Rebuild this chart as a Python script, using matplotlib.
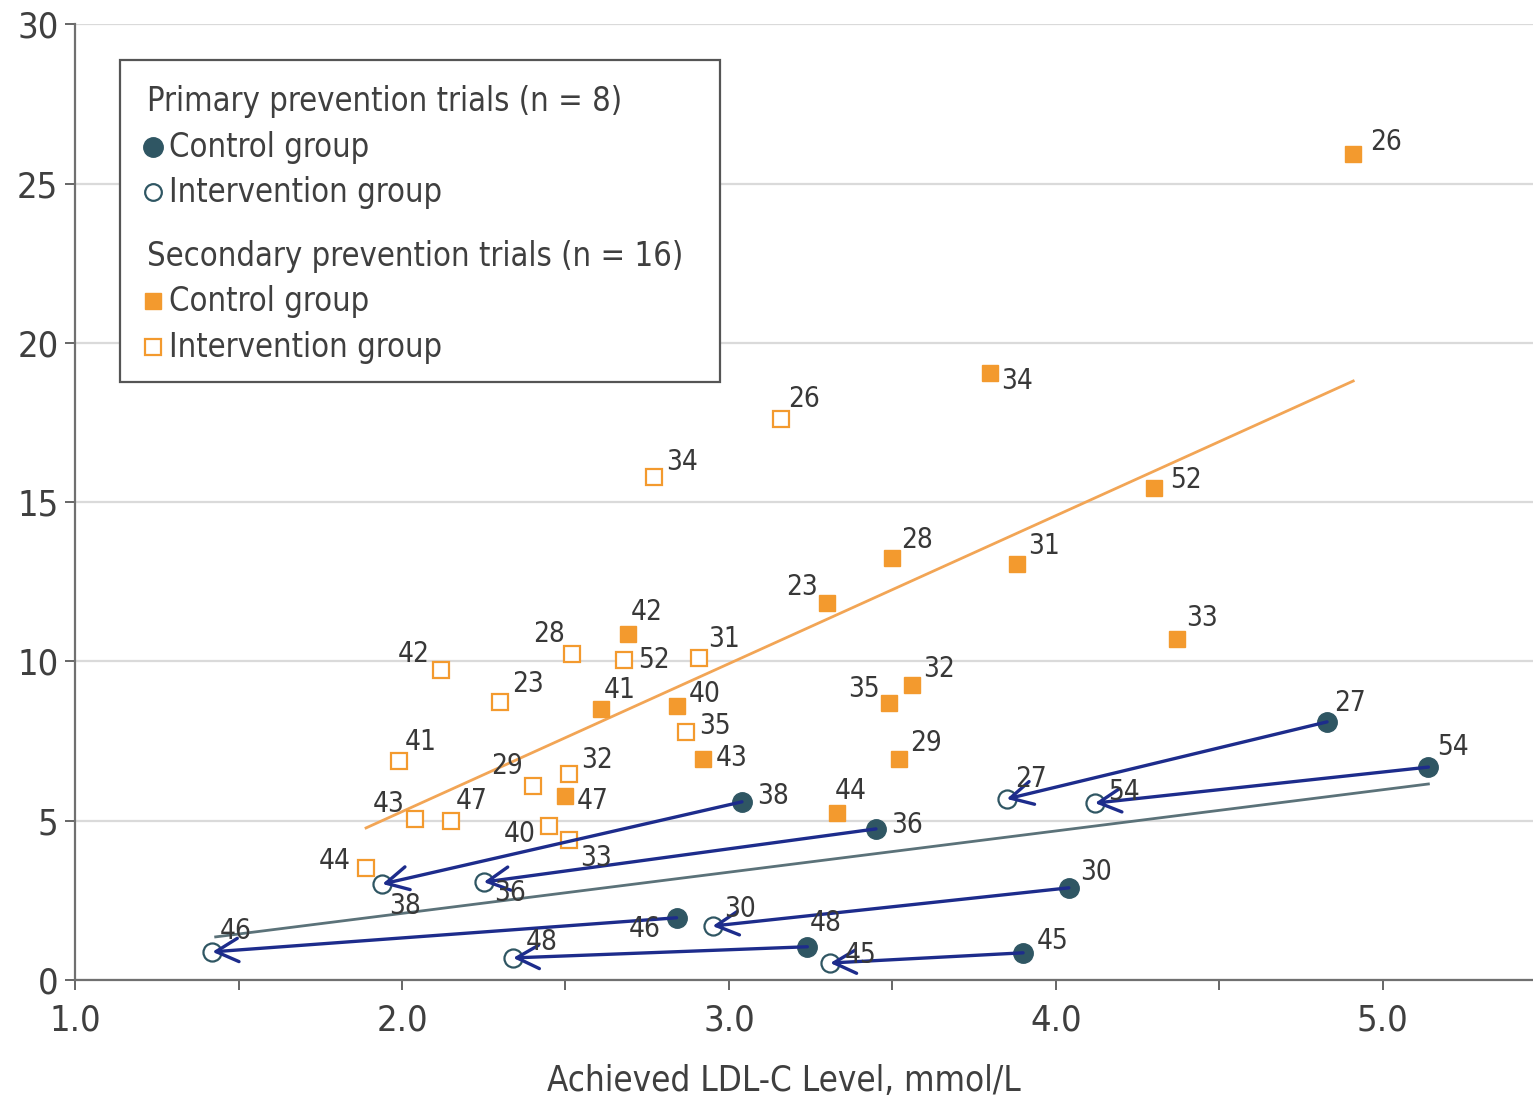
import matplotlib
matplotlib.use('Agg')
import matplotlib.pyplot as plt
from matplotlib.patches import Rectangle

# the original uses a narrow sans, DejaVu Sans Condensed is the closest installed face
plt.rcParams['font.family'] = ['DejaVu Sans']
plt.rcParams['font.stretch'] = 'condensed'

# Primary prevention trials (n=8): control -> intervention, same order
prim_labels = ['27', '54', '38', '36', '30', '46', '48', '45']
prim_ctrl_x = [4.83, 5.14, 3.04, 3.45, 4.04, 2.84, 3.24, 3.90]
prim_ctrl_y = [8.10, 6.68, 5.59, 4.74, 2.89, 1.95, 1.04, 0.85]
prim_int_x = [3.85, 4.12, 1.94, 2.25, 2.95, 1.42, 2.34, 3.31]
prim_int_y = [5.68, 5.55, 3.01, 3.07, 1.69, 0.88, 0.69, 0.53]

# Secondary prevention trials (n=16)
sec_ctrl_labels = ['26', '34', '52', '28', '31', '23', '42', '33',
                   '41', '40', '35', '32', '43', '29', '47', '44']
sec_ctrl_x = [4.91, 3.80, 4.30, 3.50, 3.88, 3.30, 2.69, 4.37,
              2.61, 2.84, 3.49, 3.56, 2.92, 3.52, 2.50, 3.33]
sec_ctrl_y = [25.92, 19.05, 15.44, 13.24, 13.05, 11.83, 10.86, 10.70,
              8.50, 8.60, 8.69, 9.26, 6.93, 6.93, 5.77, 5.24]

sec_int_labels = ['26', '34', '28', '52', '31', '42', '23', '35',
                  '41', '29', '32', '43', '47', '40', '33', '44']
sec_int_x = [3.16, 2.77, 2.52, 2.68, 2.91, 2.12, 2.30, 2.87,
             1.99, 2.40, 2.51, 2.04, 2.15, 2.45, 2.51, 1.89]
sec_int_y = [17.60, 15.78, 10.23, 10.04, 10.10, 9.73, 8.72, 7.78,
             6.87, 6.09, 6.46, 5.05, 4.99, 4.83, 4.39, 3.51]

# regression lines (end points)
sec_fit_x = [1.89, 4.91]
sec_fit_y = [4.77, 18.80]
prim_fit_x = [1.43, 5.14]
prim_fit_y = [1.35, 6.15]

# label offsets in pixels (dx, dy)
prim_ctrl_off = [(23, 19), (25, 20), (31, 6), (31, 4), (27, 16), (-32, -11), (18, 24), (30, 12)]
prim_int_off = [(24, 20), (29, 11), (23, -22), (26, -11), (27, 17), (23, 21), (29, 16), (30, 8)]
sec_ctrl_off = [(33, 12), (27, -8), (32, 8), (25, 18), (27, 18), (-25, 16), (19, 22), (25, 21),
                (18, 19), (28, 12), (-25, 14), (27, 16), (29, 1), (27, 16), (27, -5), (14, 22)]
sec_int_off = [(23, 20), (28, 15), (-23, 20), (30, 0), (25, 19), (-28, 16), (28, 18), (29, 6),
               (22, 19), (-26, 20), (28, 14), (-26, 15), (21, 20), (-29, -8), (27, -18), (-31, 7)]

teal = '#2f5663'
orange = '#f39a2e'
navy = '#1d2c8c'
txt = '#383838'

fig = plt.figure(figsize=(15.33, 11.01), dpi=100)
ax = fig.add_axes([0.049, 0.11, 0.951, 0.868])

ax.plot(sec_fit_x, sec_fit_y, color='#f2a555', lw=2, zorder=2)
ax.plot(prim_fit_x, prim_fit_y, color='#5b7279', lw=2, zorder=2)

ax.plot(sec_ctrl_x, sec_ctrl_y, 's', ms=12, color=orange, mec=orange, zorder=3)
ax.plot(sec_int_x, sec_int_y, 's', ms=12, mfc='white', mec=orange, mew=1.6, zorder=3)
ax.plot(prim_ctrl_x, prim_ctrl_y, 'o', ms=14, color=teal, zorder=3)
ax.plot(prim_int_x, prim_int_y, 'o', ms=13, mfc='white', mec=teal, mew=1.6, zorder=3)

for cx, cy, ix, iy in zip(prim_ctrl_x, prim_ctrl_y, prim_int_x, prim_int_y):
    ax.annotate('', xy=(ix, iy), xytext=(cx, cy),
                arrowprops=dict(arrowstyle='->,head_length=0.8,head_width=0.42',
                                color=navy, lw=2.4, mutation_scale=20,
                                shrinkA=0, shrinkB=0), zorder=4)

groups = [
    (prim_labels, prim_ctrl_x, prim_ctrl_y, prim_ctrl_off),
    (prim_labels, prim_int_x, prim_int_y, prim_int_off),
    (sec_ctrl_labels, sec_ctrl_x, sec_ctrl_y, sec_ctrl_off),
    (sec_int_labels, sec_int_x, sec_int_y, sec_int_off),
]
for labels, xs, ys, offs in groups:
    for lab, x, y, off in zip(labels, xs, ys, offs):
        ax.annotate(lab, (x, y), xytext=off, textcoords='offset pixels',
                    ha='center', va='center', fontsize=20, color=txt, zorder=5)

ax.set_xlim(1.0, 5.46)
ax.set_ylim(0, 30)
ax.set_xticks([1, 2, 3, 4, 5])
ax.set_xticklabels(['1.0', '2.0', '3.0', '4.0', '5.0'])
ax.set_xticks([1.5, 2.5, 3.5, 4.5], minor=True)
ax.set_yticks(range(0, 31, 5))
ax.tick_params(axis='both', which='both', direction='out', length=7, width=1.4,
               color='#666666', labelcolor='#3f3f3f', labelsize=26)
ax.tick_params(axis='x', pad=10)
ax.tick_params(axis='y', pad=5)
ax.yaxis.grid(True, color='#dadada', lw=1.6)
ax.set_axisbelow(True)
for s in ['top', 'right']:
    ax.spines[s].set_visible(False)
for s in ['left', 'bottom']:
    ax.spines[s].set_color('#707070')
    ax.spines[s].set_linewidth(1.6)

ax.set_xlabel('Achieved LDL-C Level, mmol/L', fontsize=25, color='#3f3f3f')
ax.xaxis.set_label_coords(0.486, -0.088)

# legend box drawn by hand to keep the group titles flush left
ax.add_patch(Rectangle((0.031, 0.6255), 0.4115, 0.3368, transform=ax.transAxes,
                       fill=True, facecolor='white', edgecolor='#555555', lw=1.6, zorder=6))
rows = [
    (0.9193, 'Primary prevention trials (n = 8)', None),
    (0.8713, 'Control group', dict(marker='o', ms=14, color=teal)),
    (0.8243, 'Intervention group', dict(marker='o', ms=12, mfc='white', mec=teal, mew=1.6)),
    (0.7573, 'Secondary prevention trials (n = 16)', None),
    (0.7103, 'Control group', dict(marker='s', ms=12, color=orange)),
    (0.6622, 'Intervention group', dict(marker='s', ms=12, mfc='white', mec=orange, mew=1.6)),
]
for y, label, mk in rows:
    if mk is None:
        ax.text(0.0494, y, label, transform=ax.transAxes, fontsize=23.5,
                color='#3f3f3f', va='center', ha='left', zorder=7)
    else:
        ax.plot([0.0535], [y], transform=ax.transAxes, ls='none', zorder=7,
                clip_on=False, **mk)
        ax.text(0.0645, y, label, transform=ax.transAxes, fontsize=23.5,
                color='#3f3f3f', va='center', ha='left', zorder=7)

fig.savefig('out.png', dpi=100)
